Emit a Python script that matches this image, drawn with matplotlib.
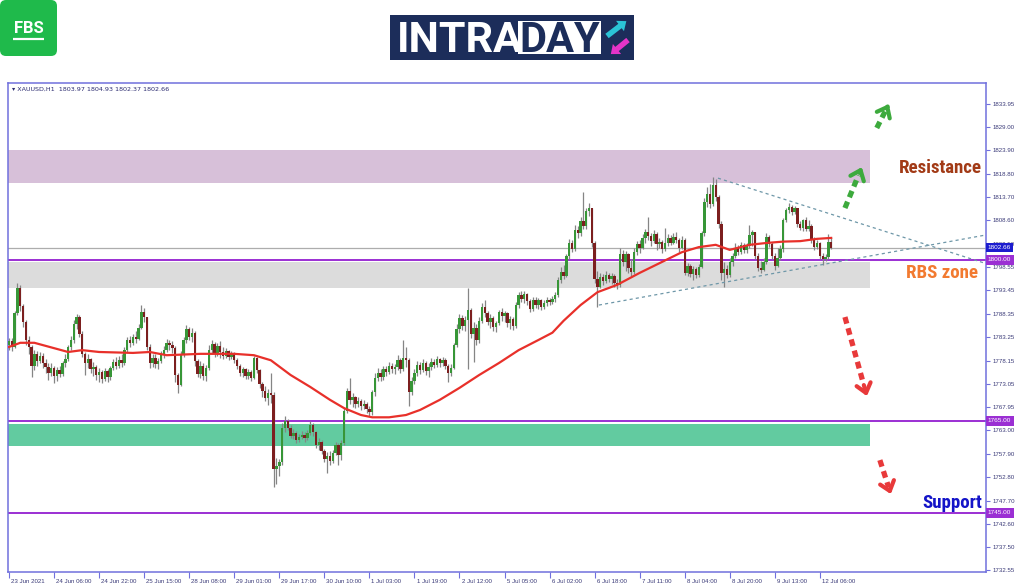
import numpy as np
import matplotlib.pyplot as plt
from matplotlib import transforms
from matplotlib.patches import Rectangle, FancyBboxPatch, FancyArrow

# ---- XAUUSD H1, 23 Jun 2021 -> 12 Jul 2021 (one value per bar) ----
first_open = 1781.5
closes = [
    1782.4, 1781.0, 1788.5, 1794.0, 1790.0, 1786.5, 1782.5, 1781.0, 1777.0, 1779.5,
    1778.0, 1779.2, 1777.5, 1776.8, 1775.5, 1776.5, 1774.8, 1776.0, 1775.2, 1777.5,
    1778.5, 1781.0, 1782.5, 1786.0, 1787.5, 1784.0, 1779.5, 1777.5, 1778.5, 1776.2,
    1776.8, 1775.0, 1775.6, 1774.2, 1775.8, 1774.5, 1776.5, 1777.8, 1777.0, 1778.2,
    1777.6, 1780.5, 1782.5, 1782.0, 1783.2, 1782.8, 1785.2, 1788.6, 1787.5, 1781.0,
    1777.5, 1778.8, 1777.4, 1778.0, 1779.5, 1780.5, 1782.0, 1781.5, 1780.8, 1775.0,
    1772.8, 1779.5, 1782.5, 1785.0, 1783.2, 1784.2, 1778.0, 1775.2, 1777.0, 1774.8,
    1776.5, 1780.5, 1781.8, 1779.8, 1781.2, 1780.0, 1779.2, 1780.2, 1779.0, 1779.6,
    1778.2, 1777.0, 1775.5, 1776.2, 1774.8, 1775.6, 1774.4, 1778.6, 1776.0, 1773.0,
    1771.5, 1770.0, 1771.0, 1770.6, 1754.5, 1755.2, 1756.0, 1763.5, 1765.0, 1763.5,
    1761.8, 1762.4, 1760.8, 1761.5, 1762.0, 1761.2, 1762.3, 1764.2, 1762.5, 1759.8,
    1760.4, 1758.4, 1756.8, 1757.4, 1756.2, 1758.0, 1759.8, 1757.6, 1760.2, 1767.2,
    1771.5, 1769.5, 1770.2, 1768.8, 1769.4, 1768.2, 1768.8, 1767.6, 1767.0, 1771.2,
    1774.4, 1775.4, 1774.6, 1776.2, 1775.6, 1777.0, 1776.2, 1776.8, 1778.2, 1776.4,
    1778.8, 1778.2, 1771.4, 1773.8, 1775.5, 1777.2, 1776.0, 1777.6, 1775.8, 1776.8,
    1777.8, 1777.2, 1778.4, 1777.6, 1778.2, 1777.0, 1775.4, 1776.6, 1781.5, 1785.0,
    1787.4, 1785.6, 1787.0, 1789.2, 1784.0, 1785.2, 1782.6, 1786.8, 1789.8, 1788.4,
    1786.6, 1787.4, 1785.4, 1786.2, 1788.6, 1787.8, 1788.4, 1786.2, 1787.2, 1785.6,
    1790.2, 1792.4, 1791.6, 1792.6, 1791.0, 1789.4, 1791.4, 1790.2, 1791.2, 1789.8,
    1790.6, 1791.4, 1790.8, 1791.6, 1792.4, 1795.6, 1797.4, 1796.6, 1800.8, 1803.8,
    1802.4, 1806.6, 1805.8, 1808.4, 1807.4, 1810.6, 1811.2, 1803.6, 1795.8, 1794.2,
    1796.4, 1795.4, 1796.8, 1795.8, 1796.6, 1795.0, 1794.6, 1801.4, 1799.6, 1801.2,
    1798.2, 1797.4, 1801.8, 1803.4, 1802.6, 1804.8, 1806.0, 1805.2, 1804.2, 1805.6,
    1803.4, 1804.0, 1802.4, 1803.6, 1804.8, 1803.8, 1805.0, 1804.4, 1802.6, 1804.4,
    1797.2, 1798.6, 1797.0, 1798.0, 1796.8, 1798.4, 1805.8, 1812.6, 1814.4, 1812.2,
    1816.4, 1813.8, 1807.8, 1797.2, 1798.0, 1796.8, 1799.6, 1800.8, 1802.6, 1801.8,
    1803.2, 1802.2, 1803.0, 1805.4, 1806.0, 1800.8, 1798.2, 1797.8, 1799.6, 1804.9,
    1803.4, 1800.8, 1798.6, 1800.4, 1802.4, 1808.6, 1810.8, 1811.6, 1810.4, 1811.2,
    1807.8, 1807.0, 1808.6, 1806.8, 1807.4, 1804.4, 1802.8, 1803.6, 1800.8, 1800.2,
    1800.6, 1803.97, 1802.66,
]
highs = [
    1783.0, 1783.0, 1789.0, 1795.0, 1794.5, 1790.5, 1787.0, 1783.5, 1781.5, 1780.5,
    1780.2, 1780.0, 1779.8, 1778.5, 1777.5, 1777.5, 1777.0, 1776.8, 1777.0, 1778.0,
    1779.5, 1781.5, 1783.5, 1787.0, 1788.2, 1788.0, 1784.5, 1780.0, 1779.5, 1778.8,
    1777.8, 1777.2, 1776.5, 1776.0, 1776.5, 1776.2, 1777.0, 1778.5, 1779.0, 1779.2,
    1779.5, 1781.0, 1783.2, 1783.5, 1784.0, 1784.5, 1786.0, 1790.3, 1789.5, 1787.5,
    1781.8, 1779.5, 1779.6, 1778.8, 1780.3, 1781.2, 1782.8, 1782.6, 1782.3, 1781.2,
    1775.5, 1780.2, 1783.3, 1785.8, 1785.5, 1785.2, 1784.5, 1778.5, 1778.0, 1777.5,
    1777.2, 1781.5, 1782.5, 1782.2, 1782.0, 1782.3, 1781.0, 1780.8, 1780.5, 1780.2,
    1780.0, 1778.6, 1777.4, 1776.8, 1776.6, 1776.2, 1776.0, 1779.2, 1779.0, 1776.2,
    1773.5, 1772.5, 1772.0, 1775.5, 1771.2, 1757.0, 1756.8, 1764.5, 1766.0, 1765.5,
    1764.2, 1763.2, 1762.8, 1762.2, 1762.8, 1762.5, 1763.0, 1765.0, 1764.6, 1762.8,
    1761.2, 1760.8, 1759.0, 1758.2, 1758.5, 1758.8, 1760.4, 1760.2, 1760.8, 1767.8,
    1772.2, 1774.4, 1771.0, 1770.5, 1770.2, 1769.8, 1769.5, 1769.2, 1768.2, 1771.8,
    1775.4, 1776.5, 1776.2, 1777.0, 1777.0, 1777.8, 1777.5, 1777.4, 1779.4, 1778.8,
    1782.6, 1781.0, 1778.6, 1774.6, 1776.4, 1778.0, 1777.8, 1778.4, 1778.0, 1777.5,
    1778.8, 1778.4, 1779.2, 1778.8, 1778.9, 1778.6, 1777.4, 1777.3, 1782.0, 1786.0,
    1788.2, 1788.0, 1787.8, 1794.0, 1789.6, 1786.5, 1786.0, 1787.5, 1790.6, 1791.2,
    1789.0, 1788.2, 1787.8, 1786.8, 1789.2, 1789.6, 1789.0, 1788.6, 1787.8, 1787.5,
    1790.8, 1793.0, 1793.2, 1793.2, 1792.9, 1791.6, 1792.0, 1792.0, 1791.8, 1791.5,
    1791.2, 1792.0, 1791.8, 1792.2, 1793.0, 1796.2, 1798.4, 1799.0, 1801.4, 1804.6,
    1804.4, 1807.6, 1807.5, 1809.4, 1814.8, 1811.4, 1812.4, 1811.4, 1804.2, 1797.5,
    1797.2, 1797.0, 1797.6, 1797.2, 1797.2, 1797.0, 1795.8, 1802.6, 1802.2, 1802.0,
    1801.6, 1800.2, 1802.6, 1804.2, 1804.4, 1805.6, 1806.8, 1809.3, 1805.8, 1806.6,
    1806.0, 1804.8, 1804.4, 1807.0, 1805.6, 1805.4, 1805.8, 1806.0, 1804.8, 1805.2,
    1804.8, 1799.4, 1799.2, 1798.8, 1798.4, 1799.2, 1806.4, 1813.4, 1815.8, 1816.6,
    1818.0, 1817.6, 1814.2, 1808.4, 1799.6, 1799.0, 1800.4, 1801.6, 1803.6, 1803.2,
    1803.9, 1803.8, 1803.6, 1807.6, 1806.6, 1805.2, 1801.6, 1799.8, 1800.4, 1805.8,
    1805.4, 1804.0, 1801.6, 1802.6, 1803.2, 1809.2, 1811.4, 1812.3, 1812.0, 1811.8,
    1811.4, 1808.4, 1809.0, 1809.4, 1808.6, 1807.8, 1805.0, 1804.4, 1804.0, 1801.6,
    1801.2, 1805.6, 1804.93,
]
lows = [
    1780.5, 1780.3, 1780.8, 1788.0, 1789.0, 1785.5, 1781.5, 1779.5, 1774.5, 1776.0,
    1777.0, 1777.5, 1776.5, 1775.5, 1774.0, 1774.8, 1773.2, 1773.8, 1774.5, 1774.8,
    1776.8, 1778.0, 1780.5, 1782.0, 1785.0, 1783.2, 1779.0, 1775.0, 1776.5, 1775.5,
    1774.8, 1774.0, 1773.5, 1773.2, 1773.8, 1773.5, 1774.0, 1776.0, 1776.2, 1776.5,
    1776.8, 1777.2, 1780.0, 1781.0, 1781.5, 1782.0, 1782.5, 1785.0, 1786.5, 1780.5,
    1776.5, 1776.8, 1776.5, 1776.2, 1777.5, 1778.8, 1780.0, 1780.4, 1779.8, 1773.5,
    1771.0, 1772.5, 1779.0, 1782.0, 1782.5, 1782.2, 1777.0, 1774.5, 1774.3, 1774.0,
    1773.8, 1776.0, 1779.5, 1779.0, 1779.2, 1778.8, 1778.5, 1778.6, 1778.2, 1778.5,
    1777.6, 1776.2, 1774.8, 1774.5, 1774.2, 1774.2, 1773.6, 1774.2, 1775.5, 1772.2,
    1770.2, 1769.4, 1768.5, 1769.0, 1750.6, 1751.3, 1753.0, 1755.5, 1762.5, 1763.0,
    1761.2, 1761.0, 1760.2, 1760.4, 1761.0, 1760.5, 1760.8, 1762.0, 1761.8, 1759.2,
    1758.8, 1757.8, 1756.0, 1753.7, 1755.4, 1755.8, 1757.6, 1755.5, 1756.5, 1759.8,
    1766.8, 1768.8, 1768.0, 1767.8, 1768.0, 1767.4, 1767.6, 1766.8, 1766.0, 1766.4,
    1770.5, 1773.8, 1773.8, 1774.0, 1774.8, 1775.2, 1775.4, 1775.2, 1776.0, 1775.5,
    1775.8, 1776.8, 1768.2, 1770.6, 1773.0, 1774.8, 1775.2, 1775.6, 1775.0, 1774.6,
    1776.0, 1776.5, 1776.8, 1776.8, 1777.0, 1776.2, 1773.4, 1774.8, 1776.4, 1781.0,
    1784.2, 1784.8, 1784.6, 1776.2, 1783.0, 1777.8, 1781.5, 1782.0, 1786.2, 1787.6,
    1785.8, 1785.2, 1784.6, 1784.4, 1785.8, 1786.8, 1786.5, 1785.4, 1784.9, 1784.8,
    1785.2, 1789.6, 1790.8, 1790.6, 1790.2, 1788.8, 1789.0, 1789.6, 1789.4, 1789.2,
    1789.4, 1790.0, 1790.2, 1790.4, 1790.8, 1792.0, 1795.0, 1795.8, 1796.2, 1800.2,
    1801.8, 1802.0, 1804.8, 1805.2, 1806.8, 1806.8, 1809.6, 1802.8, 1795.0, 1789.8,
    1794.0, 1794.6, 1795.0, 1795.2, 1794.8, 1794.2, 1793.8, 1794.2, 1798.8, 1797.6,
    1797.2, 1796.6, 1797.0, 1801.0, 1801.6, 1802.4, 1803.8, 1804.4, 1803.0, 1803.6,
    1802.2, 1802.6, 1801.6, 1802.0, 1803.0, 1803.2, 1803.4, 1803.6, 1801.8, 1802.4,
    1796.8, 1796.6, 1796.2, 1795.6, 1796.0, 1796.4, 1798.2, 1805.2, 1811.6, 1811.4,
    1811.8, 1812.8, 1807.0, 1795.6, 1794.1, 1796.0, 1796.4, 1798.8, 1800.4, 1801.0,
    1801.4, 1801.5, 1801.6, 1802.6, 1803.0, 1800.2, 1797.6, 1797.1, 1797.6, 1799.2,
    1802.8, 1800.2, 1797.8, 1798.4, 1800.0, 1801.8, 1808.2, 1810.2, 1809.8, 1809.9,
    1807.2, 1806.6, 1806.4, 1806.2, 1806.2, 1803.8, 1802.2, 1802.4, 1800.2, 1798.9,
    1799.8, 1800.2, 1802.37,
]

# moving average (red line), read at a few bars
ma_bars = [0, 4, 9, 15, 21, 26, 32, 44, 50, 56, 68, 80, 87, 93, 100, 107, 114, 119,
           125, 129, 135, 141, 146, 153, 160, 167, 174, 181, 188, 193, 197, 203, 209,
           216, 224, 231, 239, 245, 251, 256, 263, 269, 275, 281, 287, 292]
ma_values = [1781.1, 1782.0, 1782.0, 1781.0, 1780.0, 1780.4, 1780.0, 1779.8, 1780.0,
             1779.3, 1779.6, 1779.6, 1779.3, 1778.2, 1775.0, 1772.4, 1769.6, 1767.8,
             1766.3, 1765.8, 1765.8, 1766.3, 1767.4, 1769.6, 1772.2, 1775.0, 1777.6,
             1780.4, 1782.6, 1784.2, 1786.8, 1790.2, 1793.0, 1794.6, 1797.2, 1799.3,
             1801.7, 1802.8, 1803.3, 1802.2, 1803.3, 1803.7, 1804.0, 1804.1, 1804.6,
             1804.8]

# time axis: one label every 16 bars
x_tick_bars = list(range(0, 289, 16))
x_tick_labels = ['23 Jun 2021', '24 Jun 06:00', '24 Jun 22:00', '25 Jun 15:00',
                 '28 Jun 08:00', '29 Jun 01:00', '29 Jun 17:00', '30 Jun 10:00',
                 '1 Jul 03:00', '1 Jul 19:00', '2 Jul 12:00', '5 Jul 05:00',
                 '6 Jul 02:00', '6 Jul 18:00', '7 Jul 11:00', '8 Jul 04:00',
                 '8 Jul 20:00', '9 Jul 13:00', '12 Jul 06:00']
y_ticks = [1833.95, 1829.00, 1823.90, 1818.80, 1813.70, 1808.60, 1803.50, 1798.55,
           1793.45, 1788.35, 1783.25, 1778.15, 1773.05, 1767.95, 1763.00, 1757.90,
           1752.80, 1747.70, 1742.60, 1737.50, 1732.55]

# levels and zones drawn on the chart
resistance_zone = (1816.7, 1823.9)
rbs_zone = (1793.9, 1799.6)
support_zone = (1759.6, 1764.35)
zone_end_bar = 305.7
purple_levels = [1800.00, 1765.00, 1745.00]
last_price = 1802.66
tri_upper = ([251.8, 346.6], [1817.8, 1799.3])
tri_lower = ([209.5, 346.6], [1790.2, 1805.4])
green_arrows = [((296.9, 1811.3), (302.9, 1820.2)), ((308.2, 1828.7), (312.5, 1833.9))]
red_arrows = [((296.9, 1787.6), (304.7, 1770.4)), ((309.3, 1756.5), (313.2, 1749.1))]

AXIS = '#7070DD'
TXT = '#3A3A78'
PURPLE = '#9B2FD3'


def dashed_arrow(ax, start, tip, color):
    (x0, y0), (x1, y1) = start, tip
    ax.plot([x0, x0 + (x1 - x0) * 0.8], [y0, y0 + (y1 - y0) * 0.8], color=color,
            lw=3.8, ls=(0, (1.3, 0.9)), dash_capstyle='butt', zorder=8)
    ax.annotate('', xy=tip, xytext=(x0 + (x1 - x0) * 0.86, y0 + (y1 - y0) * 0.86),
                arrowprops=dict(arrowstyle='->,head_length=0.5,head_width=0.4',
                                color=color, lw=3.0, shrinkA=0, shrinkB=0,
                                mutation_scale=13), zorder=8)


def draw_chart():
    fig = plt.figure(figsize=(10.24, 5.87), dpi=100, facecolor='white')

    # header with the two logos, in pixel coordinates
    hdr = fig.add_axes([0, 0, 1, 1], zorder=-1)
    hdr.set_xlim(0, 1024)
    hdr.set_ylim(587, 0)
    hdr.axis('off')
    hdr.add_patch(FancyBboxPatch((3, 3), 51, 50, boxstyle='round,pad=3,rounding_size=6',
                                 fc='#1FBA4B', ec='none'))
    hdr.text(28.5, 33, 'FBS', color='white', fontsize=12, fontweight='bold',
             family='Roboto', ha='center', va='baseline')
    hdr.plot([13, 44], [38.5, 38.5], color='white', lw=1.6, solid_capstyle='butt')
    hdr.add_patch(Rectangle((390, 15), 244, 45, fc='#1C2D5A', ec='none'))
    hdr.add_patch(Rectangle((518, 21), 83, 33, fc='white', ec='none'))
    hdr.text(397, 52.5, 'INTRA', color='white', fontsize=31, fontweight='bold',
             family='Roboto', ha='left', va='baseline')
    hdr.text(559.5, 52.5, 'DAY', color='#1C2D5A', fontsize=30, fontweight='bold',
             family='Roboto', ha='center', va='baseline')
    hdr.add_patch(FancyArrow(607, 36, 13, -10, width=5.5, head_width=13, head_length=8,
                             length_includes_head=False, fc='#2BC3D6', ec='none'))
    hdr.add_patch(FancyArrow(628, 40, -11, 9, width=5.5, head_width=13, head_length=8,
                             length_includes_head=False, fc='#E534C8', ec='none'))

    # main price chart
    ax = fig.add_axes([8 / 1024, 1 - 572 / 587, 978 / 1024, 489 / 587])
    ax.set_facecolor('white')

    c = np.array(closes)
    o = np.r_[first_open, c[:-1]]
    h = np.maximum(np.array(highs), np.maximum(o, c))
    l = np.minimum(np.array(lows), np.minimum(o, c))
    x = np.arange(len(c))
    up = c >= o

    # zones and levels
    for (lo, hi), col in [(resistance_zone, '#D7C0D9'), (rbs_zone, '#DCDCDC'),
                          (support_zone, '#62CBA0')]:
        ax.add_patch(Rectangle((-2, lo), zone_end_bar + 2, hi - lo, fc=col, ec='none',
                               zorder=1))
    for lvl in purple_levels:
        ax.axhline(lvl, color=PURPLE, lw=1.4, zorder=2)
    ax.axhline(last_price, color='#ADADAD', lw=0.9, zorder=2)

    # candles
    ax.vlines(x, l, h, color='#858585', lw=0.9, zorder=3)
    ax.bar(x, np.maximum(np.abs(c - o), 0.2), bottom=np.minimum(o, c), width=0.85,
           color=np.where(up, '#379637', '#7C1F1F'), linewidth=0, zorder=4)

    # moving average
    ax.plot(ma_bars, ma_values, color='#E8302A', lw=1.6, zorder=5,
            solid_joinstyle='round')

    # triangle trend lines
    for xs, ys in (tri_upper, tri_lower):
        ax.plot(xs, ys, color='#6E97A8', lw=0.9, ls=(0, (2.5, 2.5)), zorder=6)

    for s, t in green_arrows:
        dashed_arrow(ax, s, t, '#3DAA3D')
    for s, t in red_arrows:
        dashed_arrow(ax, s, t, '#E8393A')

    lab = dict(fontsize=13.6, fontweight='bold', family=['Roboto Condensed', 'Roboto'],
               ha='right', va='center', zorder=9)
    ax.text(345.5, 1820.0, 'Resistance', color='#A23A16', **lab)
    ax.text(344.1, 1797.2, 'RBS zone', color='#F27A30', **lab)
    ax.text(345.5, 1747.2, 'Support', color='#1414C8', **lab)

    # axes
    ax.set_xlim(-0.36, 347.0)
    ax.set_ylim(1732.17, 1838.48)
    for sp in ax.spines.values():
        sp.set_color(AXIS)
        sp.set_linewidth(1.1)
    ax.yaxis.tick_right()
    ax.set_yticks(y_ticks)
    ax.set_yticklabels([f'{v:.2f}' for v in y_ticks])
    ax.set_xticks(x_tick_bars)
    ax.set_xticklabels(x_tick_labels)
    ax.tick_params(axis='both', colors=AXIS, labelcolor=TXT, labelsize=4.4,
                   length=3, width=0.8, direction='out', pad=1.5)
    ax.tick_params(axis='x', length=4, pad=1.0)
    shift = transforms.ScaledTranslation(1.5 / 72, 0, fig.dpi_scale_trans)
    for t in ax.get_xticklabels():
        t.set_horizontalalignment('left')
        t.set_transform(t.get_transform() + shift)
    for t in ax.get_xticklabels() + ax.get_yticklabels():
        t.set_family('Liberation Sans')

    # price boxes on the right axis
    trans = transforms.blended_transform_factory(ax.transAxes, ax.transData)
    for price, col in [(last_price, '#1C1CCF')] + [(p, PURPLE) for p in purple_levels]:
        ax.text(1.002, price, f'{price:.2f}', transform=trans, ha='left', va='center',
                fontsize=4.6, family='Liberation Sans', color='white', clip_on=False,
                bbox=dict(boxstyle='square,pad=0.35', fc=col, ec='none'), zorder=10)

    ax.text(0.004, 0.992, '\u25be XAUUSD,H1  1803.97 1804.93 1802.37 1802.66',
            transform=ax.transAxes, ha='left', va='top', fontsize=4.6,
            family='DejaVu Sans', color='#2B2B70')

    fig.savefig('out.png', dpi=100, facecolor='white')


draw_chart()
